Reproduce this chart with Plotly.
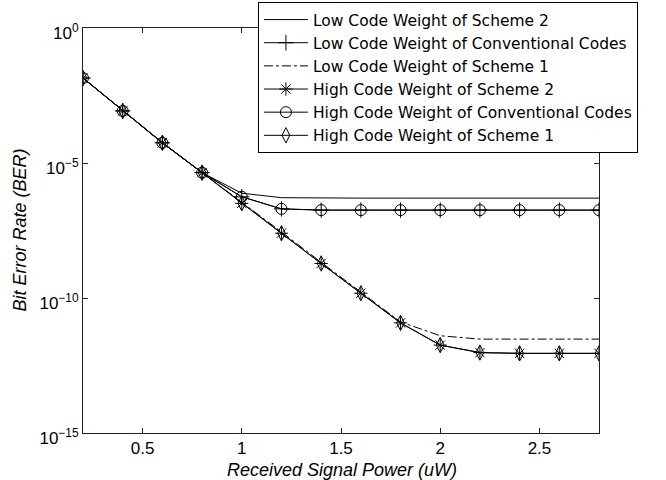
import plotly.graph_objects as go

power = [0.2, 0.4, 0.6, 0.8, 1.0, 1.2, 1.4, 1.6, 1.8, 2.0, 2.2, 2.4, 2.6, 2.8]

low_scheme2 = [1.4e-2, 8.5e-4, 5.6e-5, 4.4e-6, 7.6e-7, 5.2e-7, 5.0e-7, 5.0e-7, 5.0e-7, 5.0e-7, 5.0e-7, 5.0e-7, 5.0e-7, 5.0e-7]
low_conv = [1.4e-2, 8.5e-4, 5.6e-5, 4.4e-6, 5.6e-7, 2.0e-7, 1.8e-7, 1.8e-7, 1.8e-7, 1.8e-7, 1.8e-7, 1.8e-7, 1.8e-7, 1.8e-7]
low_scheme1 = [1.4e-2, 8.5e-4, 5.6e-5, 4.4e-6, 3.6e-7, 2.8e-8, 2.1e-9, 1.7e-10, 1.3e-11, 4.0e-12, 3.0e-12, 3.0e-12, 3.0e-12, 3.0e-12]
high_scheme2 = [1.4e-2, 8.5e-4, 5.6e-5, 4.4e-6, 3.2e-7, 2.5e-8, 1.9e-9, 1.5e-10, 1.2e-11, 1.8e-12, 9.5e-13, 8.9e-13, 8.9e-13, 8.9e-13]
high_conv = [1.4e-2, 8.5e-4, 5.6e-5, 4.4e-6, 5.6e-7, 2.0e-7, 1.8e-7, 1.8e-7, 1.8e-7, 1.8e-7, 1.8e-7, 1.8e-7, 1.8e-7, 1.8e-7]
high_scheme1 = [1.4e-2, 8.5e-4, 5.6e-5, 4.4e-6, 3.2e-7, 2.5e-8, 1.9e-9, 1.5e-10, 1.2e-11, 1.8e-12, 9.5e-13, 8.9e-13, 8.9e-13, 8.9e-13]

names = [
    "Low Code Weight of Scheme 2",
    "Low Code Weight of Conventional Codes",
    "Low Code Weight of Scheme 1",
    "High Code Weight of Scheme 2",
    "High Code Weight of Conventional Codes",
    "High Code Weight of Scheme 1",
]

y_tickvals = [1, 1e-5, 1e-10, 1e-15]
y_ticktext = ["10<sup>0</sup>", "10<sup>−5</sup>", "10<sup>−10</sup>", "10<sup>−15</sup>"]
x_tickvals = [0.5, 1, 1.5, 2, 2.5]
x_ticktext = ["0.5", "1", "1.5", "2", "2.5"]
x_title = "Received Signal Power (uW)"
y_title = "Bit Error Rate (BER)"

series = [low_scheme2, low_conv, low_scheme1, high_scheme2, high_conv, high_scheme1]
styles = [
    dict(mode="lines", dash="solid", symbol=None),
    dict(mode="lines+markers", dash="solid", symbol="cross-thin-open"),
    dict(mode="lines", dash="dashdot", symbol=None),
    dict(mode="lines+markers", dash="solid", symbol="asterisk-open"),
    dict(mode="lines+markers", dash="solid", symbol="circle-open"),
    dict(mode="lines+markers", dash="solid", symbol="diamond-tall-open"),
]

fig = go.Figure()
for name, vals, st in zip(names, series, styles):
    kw = dict(x=power, y=vals, name=name, mode=st["mode"],
              line=dict(color="black", width=1, dash=st["dash"]))
    if st["symbol"]:
        kw["marker"] = dict(symbol=st["symbol"], size=11, color="black",
                            line=dict(color="black", width=1))
    fig.add_trace(go.Scatter(**kw))

axis_common = dict(showline=True, linecolor="#222", linewidth=1, mirror="ticks",
                   ticks="inside", ticklen=5, tickcolor="#222", showgrid=False,
                   zeroline=False, automargin=False)

# paper spans y = 0..433 px (t=0, b=47); plot area occupies 28..433 px
fig.update_layout(
    width=666, height=480,
    margin=dict(l=83, r=67, t=0, b=47),
    paper_bgcolor="white", plot_bgcolor="white",
    font=dict(family="Liberation Sans", size=17, color="black"),
    showlegend=True,
    legend=dict(x=0.339, y=0.9954, xanchor="left", yanchor="top",
                bgcolor="white", bordercolor="black", borderwidth=1,
                font=dict(family="DejaVu Sans", size=15.5), tracegroupgap=0,
                itemwidth=44),
    xaxis=dict(range=[0.2, 2.8], tickvals=x_tickvals, ticktext=x_ticktext,
               tickfont=dict(size=17), **axis_common),
    yaxis=dict(type="log", range=[-15, 0], tickvals=y_tickvals, ticktext=y_ticktext,
               domain=[0, 0.93533], tickfont=dict(size=17), ticklabelshift=5,
               **axis_common),
    annotations=[
        dict(text="<i>" + x_title + "</i>", xref="paper", yref="paper",
             x=0.502, y=-0.0855, xanchor="center", yanchor="middle",
             showarrow=False, font=dict(size=18)),
        dict(text="<i>" + y_title + "</i>", xref="paper", yref="paper",
             x=-0.122, y=0.4677, xanchor="center", yanchor="middle", textangle=-90,
             showarrow=False, font=dict(size=18)),
    ],
)

fig.write_html("out.html")
